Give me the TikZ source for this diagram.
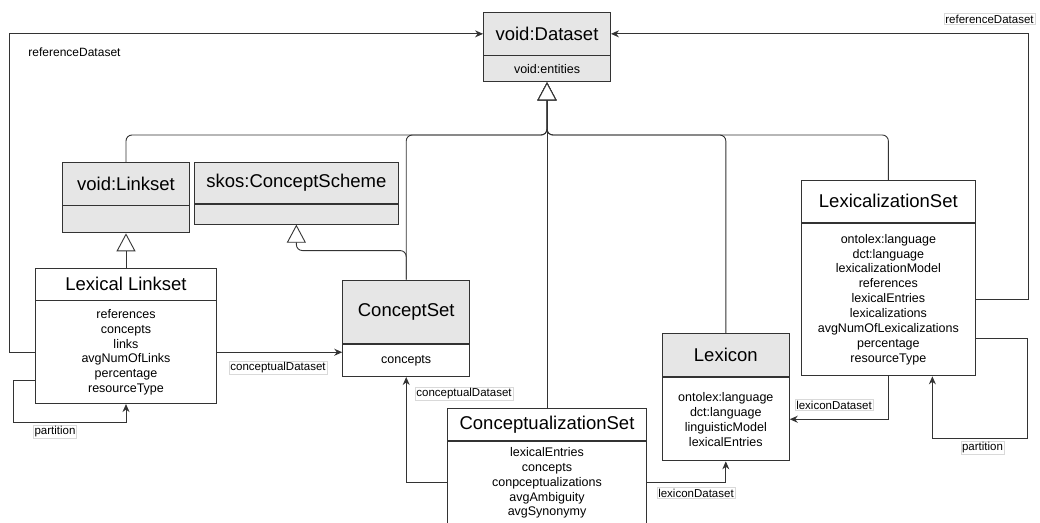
\documentclass[tikz,border=0pt]{standalone}
\usepackage{fontspec}
\setmainfont{Liberation Sans}
\usetikzlibrary{arrows.meta}
\definecolor{boxgray}{HTML}{E6E6E6}
\definecolor{linecol}{HTML}{333333}
\begin{document}
\begin{tikzpicture}[x=1pt,y=-1pt,
  comp/.style={draw=linecol, line width=0.9pt, inner sep=0pt, align=center},
  ttl/.style={comp, font=\fontsize{18.5}{22}\selectfont},
  body/.style={comp, font=\fontsize{12.5}{14.9}\selectfont},
  gfill/.style={fill=boxgray},
  wfill/.style={fill=white},
  gen/.style={draw=linecol, line width=0.9pt, rounded corners=6pt, -{Triangle[length=18pt,width=19pt,fill=white]}},
  assoc/.style={draw=linecol, line width=0.9pt, -{Stealth[length=8pt,width=7pt]}},
  lbl/.style={font=\fontsize{11.5}{13}\selectfont, fill=white, draw=gray!30, line width=0.5pt, inner sep=1.2pt},
  lblplain/.style={font=\fontsize{12}{14}\selectfont, inner sep=1pt}
]
\useasboundingbox (0,0) rectangle (1040,522);

% classes
\node[ttl,gfill,minimum width=127pt,minimum height=42.3pt] (ds) at (547,33.85) {void:Dataset};
\node[body,gfill,minimum width=127pt,minimum height=26pt,anchor=north] (dsb) at (ds.south) {void:entities};

\node[ttl,gfill,minimum width=127.3pt,minimum height=42.3pt] (vl) at (126,183.85) {void:Linkset};
\node[body,gfill,minimum width=127.3pt,minimum height=27pt,anchor=north] (vlb) at (vl.south) {};

\node[ttl,gfill,minimum width=204.7pt,minimum height=40.6pt] (sk) at (296.35,183) {skos:ConceptScheme};
\node[body,gfill,minimum width=204.7pt,minimum height=20pt,anchor=north] (skb) at (sk.south) {};

\node[ttl,wfill,minimum width=180.7pt,minimum height=31.7pt] (ll) at (126,284.15) {Lexical Linkset};
\node[body,wfill,minimum width=180.7pt,minimum height=102.7pt,anchor=north] (llb) at (ll.south) {references\\concepts\\links\\avgNumOfLinks\\percentage\\resourceType};

\node[ttl,gfill,minimum width=127pt,minimum height=63.3pt] (cs) at (406.2,311.65) {ConceptSet};
\node[body,wfill,minimum width=127pt,minimum height=32.4pt,anchor=north] (csb) at (cs.south) {concepts};

\node[ttl,gfill,minimum width=127pt,minimum height=43.4pt] (lx) at (725.8,355) {Lexicon};
\node[body,wfill,minimum width=127pt,minimum height=83.3pt,anchor=north] (lxb) at (lx.south) {ontolex:language\\dct:language\\linguisticModel\\lexicalEntries};

\node[ttl,wfill,minimum width=174.7pt,minimum height=42pt] (lz) at (888.35,201.3) {LexicalizationSet};
\node[body,wfill,minimum width=174.7pt,minimum height=152.7pt,anchor=north] (lzb) at (lz.south) {ontolex:language\\dct:language\\lexicalizationModel\\references\\lexicalEntries\\lexicalizations\\avgNumOfLexicalizations\\percentage\\resourceType};

\node[ttl,wfill,minimum width=199pt,minimum height=32.4pt] (cz) at (547,424.5) {ConceptualizationSet};
\node[body,wfill,minimum width=199pt,minimum height=82.6pt,anchor=north] (czb) at (cz.south) {lexicalEntries\\concepts\\conpceptualizations\\avgAmbiguity\\avgSynonymy};

% generalizations
\coordinate (bus) at (547,135);
\draw[gen] (vl.north) |- (bus) -- (dsb.south);
\draw[gen] (cs.north) |- (bus) -- (dsb.south);
\draw[gen] (lx.north) |- (bus) -- (dsb.south);
\draw[gen] (lz.north) |- (bus) -- (dsb.south);
\draw[gen] (cz.north) -- (dsb.south);
\draw[gen] (cs.north) -- ++(0,-29) -| (skb.south);
\draw[gen] (ll.north) -- (vlb.south);

% associations
\draw[assoc] (llb.west) -- ++(-26,0) |- (ds.west);
\draw[assoc] (lzb.east) -- ++(52,0) |- (ds.east);
\draw[assoc] (llb.east) -- (llb.east -| csb.west);
\draw[assoc] ([yshift=23.7pt]llb.south west) -- ++(-22,0) -- ++(0,41.7) -| (llb.south);
\draw[assoc] (czb.west) -| (csb.south);
\draw[assoc] (czb.east) -| (lxb.south);
\draw[assoc] (lzb.south) |- (lxb.east);
\draw[assoc] ([yshift=37.7pt]lzb.south east) -- ++(51,0) -- ++(0,99.4) -| ([xshift=44pt]lzb.south);

% labels
\node[lblplain] (rl) at (74.5,52) {referenceDataset};
\node[lbl] (rr) at (989.5,19) {referenceDataset};
\node[lbl] (c1) at (278,368) {conceptualDataset};
\node[lbl] (p1) at (55,432) {partition};
\node[lbl] (c2) at (464,394) {conceptualDataset};
\node[lbl] (l1) at (696,493) {lexiconDataset};
\node[lbl] (l2) at (834,405) {lexiconDataset};
\node[lbl] (p2) at (982.5,448) {partition};
\end{tikzpicture}
\end{document}
